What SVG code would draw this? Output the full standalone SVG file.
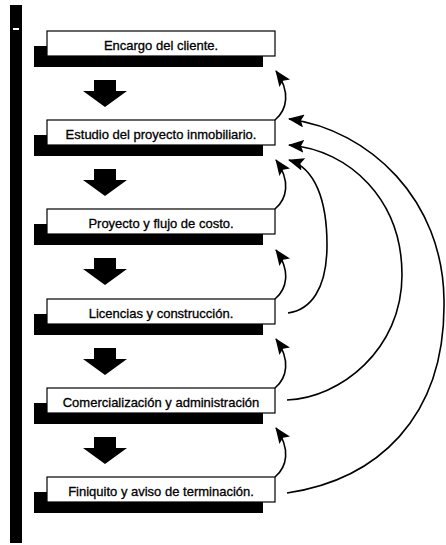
<svg xmlns="http://www.w3.org/2000/svg" width="446" height="545" viewBox="0 0 446 545">
  <style>
    .box { fill: #ffffff; stroke: #000000; stroke-width: 1.2; }
    .shadow { fill: #000000; }
    .label { font-family: "Liberation Sans", Arial, sans-serif; font-size: 13px; fill: #000000; stroke: #000000; stroke-width: 0.3; text-anchor: middle; }
    .down { fill: #000000; }
    .curve { fill: none; stroke: #000000; stroke-width: 1.6; marker-end: url(#head); }
  </style>
  <defs>
    <marker id="head" markerUnits="userSpaceOnUse" viewBox="0 0 16 13" markerWidth="16" markerHeight="13" refX="15" refY="6.5" orient="auto">
      <path d="M0,0 L16,6.5 L0,13 L3,6.5 z" fill="#000000"/>
    </marker>
  </defs>
  <rect width="446" height="545" fill="#ffffff"/>

  <g id="sidebar">
    <rect x="10" y="5" width="12" height="538" fill="#000000"/>
    <rect x="13" y="28" width="6" height="2" fill="#ffffff"/>
  </g>

  <g id="node1">
    <rect class="shadow" x="34" y="46" width="229" height="21"/>
    <rect class="box" x="47" y="31" width="228" height="25"/>
    <text class="label" x="161" y="50">Encargo del cliente.</text>
  </g>
  <g id="node2">
    <rect class="shadow" x="34" y="135" width="229" height="21"/>
    <rect class="box" x="47" y="120" width="228" height="25"/>
    <text class="label" x="161" y="139">Estudio del proyecto inmobiliario.</text>
  </g>
  <g id="node3">
    <rect class="shadow" x="34" y="224" width="229" height="21"/>
    <rect class="box" x="47" y="209" width="228" height="25"/>
    <text class="label" x="161" y="228">Proyecto y flujo de costo.</text>
  </g>
  <g id="node4">
    <rect class="shadow" x="34" y="314" width="229" height="21"/>
    <rect class="box" x="47" y="299" width="228" height="25"/>
    <text class="label" x="161" y="318">Licencias y construcción.</text>
  </g>
  <g id="node5">
    <rect class="shadow" x="34" y="403" width="229" height="21"/>
    <rect class="box" x="47" y="388" width="228" height="25"/>
    <text class="label" x="161" y="407">Comercialización y administración</text>
  </g>
  <g id="node6">
    <rect class="shadow" x="34" y="492" width="229" height="21"/>
    <rect class="box" x="47" y="477" width="228" height="25"/>
    <text class="label" x="161" y="496">Finiquito y aviso de terminación.</text>
  </g>

  <g id="connectors">
    <polygon class="down" points="94,80 116,80 116,91 127,91 105,107 83,91 94,91"/>
    <polygon class="down" points="94,169 116,169 116,180 127,180 105,196 83,180 94,180"/>
    <polygon class="down" points="94,258 116,258 116,269 127,269 105,285 83,269 94,269"/>
    <polygon class="down" points="94,348 116,348 116,359 127,359 105,375 83,359 94,359"/>
    <polygon class="down" points="94,437 116,437 116,448 127,448 105,464 83,448 94,448"/>

    <path class="curve" d="M275,120 C287,110 291,92 276,71"/>
    <path class="curve" d="M275,209 C287,199 291,181 276,160"/>
    <path class="curve" d="M275,299 C287,289 291,271 276,250"/>
    <path class="curve" d="M275,388 C287,378 291,360 276,339"/>
    <path class="curve" d="M275,477 C287,467 291,449 276,428"/>

    <path class="curve" d="M288,313 C310,310 327,290 327,245 C327,200 315,168 289,160"/>
    <path class="curve" d="M287,400 C340,398 402,350 402,275 C402,200 350,150 289,145"/>
    <path class="curve" d="M287,493 C375,480 446,420 444,300 C443,200 370,130 289,119"/>
  </g>
</svg>
